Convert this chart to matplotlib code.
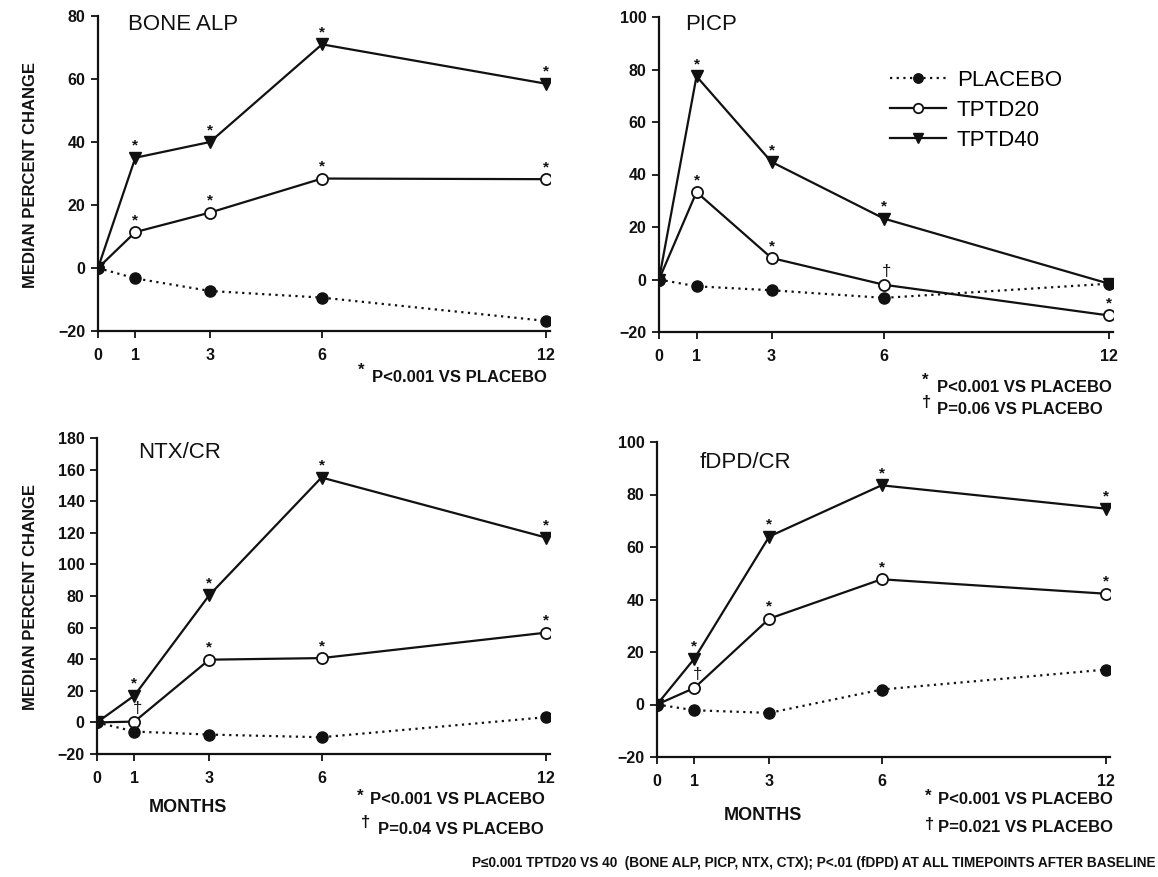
import matplotlib.pyplot as plt
import numpy as np

plt.rcParams['font.family'] = ['Liberation Sans', 'DejaVu Sans']

# months of follow-up
months = [0, 1, 3, 6, 12]

# median percent change per marker
bone_placebo = [0, -3.3, -7.3, -9.4, -16.8]
bone_tptd20 = [0, 11.4, 17.6, 28.4, 28.2]
bone_tptd40 = [0, 35, 40, 71, 58.5]

picp_placebo = [0, -2.6, -4.1, -7, -1.6]
picp_tptd20 = [0, 33.3, 8.2, -2, -13.7]
picp_tptd40 = [0, 77.4, 44.8, 23.2, -1.6]

ntx_placebo = [0, -5.8, -7.7, -9.4, 3.3]
ntx_tptd20 = [0, 0.5, 39.7, 40.7, 56.8]
ntx_tptd40 = [0, 17, 80.5, 155, 117]

dpd_placebo = [0, -2.2, -3.2, 5.7, 13.3]
dpd_tptd20 = [0, 6.3, 32.7, 47.7, 42.2]
dpd_tptd40 = [0, 17.5, 64, 83.5, 74.6]

# significance marks: (month index, series) for "*" and "†"
bone_stars = [(1, '40'), (2, '40'), (3, '40'), (4, '40'), (1, '20'), (2, '20'), (3, '20'), (4, '20')]
bone_dagger = []
picp_stars = [(1, '40'), (2, '40'), (3, '40'), (1, '20'), (2, '20'), (4, '20')]
picp_dagger = [(3, '20')]
ntx_stars = [(1, '40'), (2, '40'), (3, '40'), (4, '40'), (2, '20'), (3, '20'), (4, '20')]
ntx_dagger = [(1, '20')]
dpd_stars = [(1, '40'), (2, '40'), (3, '40'), (4, '40'), (2, '20'), (3, '20'), (4, '20')]
dpd_dagger = [(1, '20')]

W, H = 1158, 877
fig = plt.figure(figsize=(W / 100, H / 100), dpi=100)
ink = '#111111'


def box(l, x12, t, b):
    w = (x12 - l) * 12.1 / 12
    return [l / W, 1 - b / H, w / W, (b - t) / H]


panels = [
    dict(rect=box(98, 546, 16, 331), ylim=(-20, 80), yt=np.arange(-20, 81, 20),
         data=(bone_placebo, bone_tptd20, bone_tptd40), stars=bone_stars, dag=bone_dagger,
         title='BONE ALP', tpos=(128, 25)),
    dict(rect=box(659, 1109, 17, 332), ylim=(-20, 100), yt=np.arange(-20, 101, 20),
         data=(picp_placebo, picp_tptd20, picp_tptd40), stars=picp_stars, dag=picp_dagger,
         title='PICP', tpos=(685, 25)),
    dict(rect=box(97, 546, 438, 754), ylim=(-20, 180), yt=np.arange(-20, 181, 20),
         data=(ntx_placebo, ntx_tptd20, ntx_tptd40), stars=ntx_stars, dag=ntx_dagger,
         title='NTX/CR', tpos=(138, 453)),
    dict(rect=box(657, 1106, 442, 757), ylim=(-20, 100), yt=np.arange(-20, 101, 20),
         data=(dpd_placebo, dpd_tptd20, dpd_tptd40), stars=dpd_stars, dag=dpd_dagger,
         title='fDPD/CR', tpos=(700, 463)),
]

axes = []
for p in panels:
    ax = fig.add_axes(p['rect'])
    plac, t20, t40 = p['data']
    ax.plot(months, t40, color=ink, lw=1.6, marker='v', ms=8, mfc=ink, mec=ink, label='TPTD40', zorder=3)
    ax.plot(months, t20, color=ink, lw=1.6, marker='o', ms=8, mfc='white', mec=ink, mew=1.3, label='TPTD20', zorder=4)
    ax.plot(months, plac, color=ink, lw=1.6, ls=(0, (1, 2)), marker='o', ms=8, mfc=ink, mec=ink, label='PLACEBO', zorder=5)
    series = {'20': t20, '40': t40}
    for i, s in p['stars']:
        ax.annotate('*', (months[i], series[s][i]), xytext=(0, 3.5), textcoords='offset points',
                    ha='center', va='bottom', fontsize=11, fontweight='bold', color=ink)
    for i, s in p['dag']:
        ax.annotate('\u2020', (months[i], series[s][i]), xytext=(2, 4), textcoords='offset points',
                    ha='center', va='bottom', fontsize=12, color=ink)
    ax.set_xlim(0, 12.1)
    ax.set_ylim(*p['ylim'])
    ax.set_xticks(months)
    ax.set_yticks(p['yt'])
    for side in ('top', 'right'):
        ax.spines[side].set_visible(False)
    for side in ('left', 'bottom'):
        ax.spines[side].set_linewidth(1.6)
        ax.spines[side].set_color(ink)
    ax.tick_params(direction='out', length=5, width=1.3, colors=ink, labelsize=11.5)
    ax.tick_params(axis='x', pad=7)
    ax.tick_params(axis='y', pad=4)
    for lab in ax.get_xticklabels() + ax.get_yticklabels():
        lab.set_fontweight('bold')
    fig.text(p['tpos'][0] / W, 1 - p['tpos'][1] / H, p['title'], fontsize=16, color=ink,
             ha='left', va='center')
    axes.append(ax)

# legend in the PICP panel
h, l = axes[1].get_legend_handles_labels()
axes[1].legend(h[::-1], l[::-1], loc='upper left', bbox_to_anchor=(890 / W, 1 - 70 / H),
               bbox_transform=fig.transFigure, frameon=False, fontsize=16, borderpad=0,
               borderaxespad=0, handlelength=2.5, handletextpad=0.5, labelspacing=0.4,
               markerscale=0.85)

# y labels
for yc in (175, 597):
    fig.text(31 / W, 1 - yc / H, 'MEDIAN PERCENT CHANGE', rotation=90, fontsize=12,
             fontweight='bold', ha='center', va='center', color=ink)

# MONTHS labels
fig.text(188 / W, 1 - 808 / H, 'MONTHS', fontsize=13, fontweight='bold', ha='center', va='center', color=ink)
fig.text(763 / W, 1 - 815 / H, 'MONTHS', fontsize=13, fontweight='bold', ha='center', va='center', color=ink)


def note(sx, sy, sym, x, y, txt):
    fig.text(sx / W, 1 - sy / H, sym, fontsize=12, fontweight='bold', ha='center', va='center', color=ink)
    fig.text(x / W, 1 - y / H, txt, fontsize=12, fontweight='bold', ha='left', va='center', color=ink)


note(361, 370, '*', 372, 377, 'P<0.001 VS PLACEBO')
note(925, 380, '*', 937, 387, 'P<0.001 VS PLACEBO')
note(927, 402, '\u2020', 937, 409, 'P=0.06 VS PLACEBO')
note(360, 796, '*', 370, 800, 'P<0.001 VS PLACEBO')
note(366, 823, '\u2020', 378, 829, 'P=0.04 VS PLACEBO')
note(928, 796, '*', 938, 800, 'P<0.001 VS PLACEBO')
note(930, 825, '\u2020', 938, 828, 'P=0.021 VS PLACEBO')

fig.text(1155 / W, 1 - 863 / H,
         'P\u22640.001 TPTD20 VS 40  (BONE ALP, PICP, NTX, CTX); P<.01 (fDPD) AT ALL TIMEPOINTS AFTER BASELINE',
         fontsize=9.8, fontweight='bold', ha='right', va='center', color=ink)

fig.savefig('out.png', dpi=100, facecolor='white')
